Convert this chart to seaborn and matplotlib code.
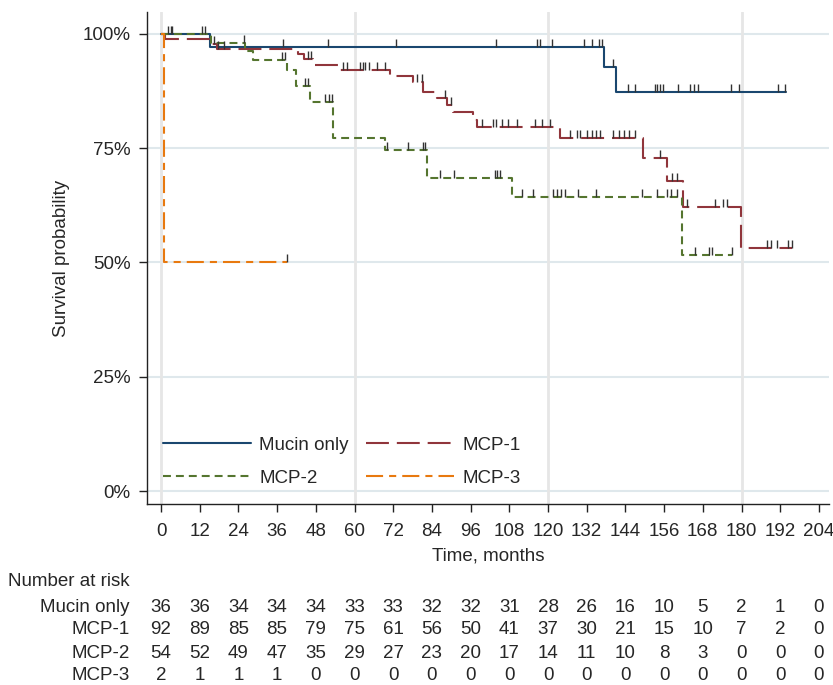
import numpy as np
import pandas as pd
import seaborn as sns
import matplotlib.pyplot as plt

# Kaplan-Meier step curves (months, survival)
mucin_t = [0, 15.2, 137.5, 141.0, 193.7]
mucin_s = [1.0, 0.972, 0.927, 0.873, 0.873]
mucin_cens = [2.2, 3.0, 3.4, 12.7, 13.6, 37.8, 51.8, 72.9, 103.9, 116.6, 117.5,
              121.1, 131.2, 133.5, 135.9, 136.6, 140.3, 144.9, 147.0, 153.2,
              153.9, 154.7, 155.8, 160.2, 164.0, 165.3, 166.6, 176.6, 179.3,
              191.2, 193.5]

mcp1_t = [0, 1.2, 15.5, 17.5, 42.5, 44.3, 47.2, 55.0, 71.0, 78.0, 81.3, 85.5,
          88.6, 90.6, 96.8, 97.9, 123.7, 149.5, 157.0, 161.8, 179.7, 195.6]
mcp1_s = [1.0, 0.989, 0.978, 0.967, 0.956, 0.946, 0.932, 0.921, 0.908, 0.894,
          0.872, 0.859, 0.845, 0.830, 0.812, 0.796, 0.772, 0.728, 0.679, 0.622,
          0.531, 0.531]
mcp1_cens = [16.5, 17.7, 19.5, 45.5, 46.5, 56.3, 57.6, 61.8, 62.5, 63.3, 64.5,
             67.0, 69.5, 79.4, 81.0, 88.0, 90.0, 99.4, 103.0, 104.0, 105.6,
             107.7, 110.3, 116.0, 118.0, 120.6, 126.8, 128.9, 130.0, 132.0,
             133.5, 135.0, 136.0, 140.3, 142.0, 143.7, 145.0, 146.9, 154.7,
             158.5, 160.0, 163.0, 171.8, 174.3, 175.5, 188.0, 189.0, 191.0,
             194.4, 195.6]

mcp2_t = [0, 15.5, 26.0, 28.6, 39.0, 41.7, 46.2, 53.2, 69.5, 82.5, 108.7,
          161.5, 177.0]
mcp2_s = [1.0, 0.981, 0.962, 0.943, 0.920, 0.885, 0.852, 0.772, 0.746, 0.684,
          0.644, 0.516, 0.516]
mcp2_cens = [25.7, 37.4, 38.4, 44.7, 45.5, 51.0, 52.0, 53.0, 70.0, 76.6, 81.2,
             82.0, 86.5, 91.0, 103.6, 104.2, 105.0, 111.8, 115.3, 121.6, 122.7,
             124.0, 125.3, 129.3, 135.0, 149.0, 153.7, 156.8, 158.0, 159.9,
             165.6, 170.0, 171.0, 177.0]

mcp3_t = [0, 0.8, 39.0]
mcp3_s = [1.0, 0.5, 0.5]
mcp3_cens = [39.0]

groups = ["Mucin only", "MCP-1", "MCP-2", "MCP-3"]
risk_times = list(range(0, 205, 12))
risk_mucin = [36, 36, 34, 34, 34, 33, 33, 32, 32, 31, 28, 26, 16, 10, 5, 2, 1, 0]
risk_mcp1 = [92, 89, 85, 85, 79, 75, 61, 56, 50, 41, 37, 30, 21, 15, 10, 7, 2, 0]
risk_mcp2 = [54, 52, 49, 47, 35, 29, 27, 23, 20, 17, 14, 11, 10, 8, 3, 0, 0, 0]
risk_mcp3 = [2, 1, 1, 1, 0, 0, 0, 0, 0, 0, 0, 0, 0, 0, 0, 0, 0, 0]

sns.set_theme(style="white")
plt.rcParams['font.family'] = ['Liberation Sans', 'DejaVu Sans']
fs = 13.5

colors = ["#1a476f", "#90353b", "#55752f", "#e8790f"]
styles = ["-", (0, (11, 3.8)), (0, (3.8, 2.4)), (0, (8.2, 2.9, 3.4, 2.9))]
curves = [(mucin_t, mucin_s, mucin_cens), (mcp1_t, mcp1_s, mcp1_cens),
          (mcp2_t, mcp2_s, mcp2_cens), (mcp3_t, mcp3_s, mcp3_cens)]

fig = plt.figure(figsize=(8.33, 6.85), dpi=100)
ax = fig.add_axes([0.1765, 0.2642, 0.9947 - 0.1765, 0.9825 - 0.2642])

# grid
for g in [0, 25, 50, 75, 100]:
    ax.axhline(g / 100, color="#dfe8ec", lw=1.5, zorder=0)
for g in [0, 60, 120, 180]:
    ax.axvline(g, color="#e6e6e6", lw=2, zorder=0)

handles = []
for name, (t, s, cens), c, ls in zip(groups, curves, colors, styles):
    df = pd.DataFrame({"time": t, "surv": s})
    sns.lineplot(data=df, x="time", y="surv", drawstyle="steps-post",
                 estimator=None, sort=False, color=c, linestyle=ls, lw=1.5,
                 ax=ax, zorder=3)
    handles.append(ax.lines[-1])
    # censor ticks sit on top of the curve
    idx = np.searchsorted(t, cens, side="right") - 1
    ax.plot(cens, np.array(s)[idx], ls="none", marker=[(0, 0), (0, 1)],
            ms=12, mec="#333333", mew=1, zorder=4)

ax.set_xlim(-4.34, 207)
ax.set_ylim(-0.0284, 1.048)
ax.set_xticks(risk_times)
ax.set_yticks([0, 0.25, 0.5, 0.75, 1.0])
ax.set_yticklabels(["0%", "25%", "50%", "75%", "100%"])
ax.tick_params(axis="both", length=6, width=1, labelsize=fs, color="#222222",
               direction="out", bottom=True, left=True)
ax.tick_params(axis="x", pad=8)
ax.tick_params(axis="y", pad=6)
for side in ["top", "right"]:
    ax.spines[side].set_visible(False)
for side in ["left", "bottom"]:
    ax.spines[side].set_color("#222222")
    ax.spines[side].set_linewidth(1)

ax.set_xlabel("Time, months", fontsize=fs, labelpad=5)
ax.set_ylabel("Survival probability", fontsize=fs, labelpad=9)

leg = ax.legend([handles[0], handles[2], handles[1], handles[3]],
                ["Mucin only", "MCP-2", "MCP-1", "MCP-3"], ncol=2,
                loc="lower left", bbox_to_anchor=(0.023, 0.035), frameon=False,
                fontsize=fs, handlelength=4.7, handletextpad=0.45,
                columnspacing=0.9, labelspacing=0.85, borderpad=0,
                borderaxespad=0)

# number at risk table
fig.text(0.0096, 1 - 582 / 685, "Number at risk", fontsize=fs, va="center")
rows = [risk_mucin, risk_mcp1, risk_mcp2, risk_mcp3]
row_y = [607, 630, 653, 676]
for name, vals, py in zip(groups, rows, row_y):
    yf = 1 - py / 685
    fig.text(130 / 833, yf, name, fontsize=fs, ha="right", va="center")
    for tm, v in zip(risk_times, vals):
        xf = fig.transFigure.inverted().transform(ax.transData.transform((tm, 0)))[0]
        fig.text(xf, yf, str(v), fontsize=fs, ha="center", va="center")

plt.savefig("out.png", dpi=100)
